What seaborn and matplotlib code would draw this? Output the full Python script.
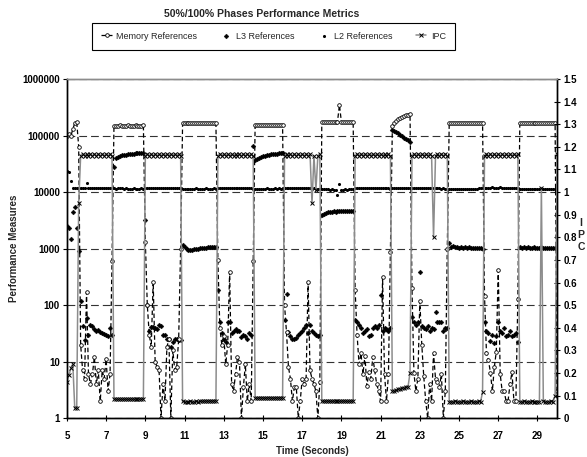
import numpy as np
import pandas as pd
import matplotlib
matplotlib.use("Agg")
import matplotlib.pyplot as plt
from matplotlib.ticker import FixedLocator, FuncFormatter, NullLocator
import seaborn as sns

sns.set_theme(style="ticks")
plt.rcParams["font.family"] = ["Liberation Sans", "DejaVu Sans"]
plt.rcParams["font.weight"] = "bold"

# amostras a cada 0.1 s, de 5.0 a 30.0 s (uma linha por segundo)
time_start = 5.0
time_step = 0.1

memory_refs = [
    100000, 105000, 97000, 130000, 165000, 175000, 64000, 20, 7, 5,            # 5
    170, 6, 4, 6, 12, 4, 7, 2, 7, 5,                                           # 6
    11, 3, 6, 600, 150000, 149000, 150000, 151000, 150000, 149000,             # 7
    150000, 151000, 150000, 149000, 150000, 151000, 150000, 149000, 150000, 151000,  # 8
    1300, 100, 30, 18, 260, 10, 8, 7, 1, 4,                                    # 9
    2, 18, 25, 1, 16, 7, 8, 25, 1000, 165000,                                  # 10
    166000, 165000, 167000, 166000, 165000, 167000, 166000, 165000, 167000, 166000,  # 11
    165000, 167000, 166000, 165000, 167000, 166000, 165000, 620, 40, 20,       # 12
    28, 9, 20, 390, 4, 3, 6, 12, 10, 1,                                        # 13
    3.5, 9, 2, 4, 2, 600, 155000, 154000, 156000, 155000,                      # 14
    154000, 155000, 156000, 155000, 154000, 155000, 156000, 155000, 154000, 155000,  # 15
    156000, 100, 33, 8, 5, 2, 3.5, 3.5, 1, 2,                                  # 16
    5, 4, 5, 260, 7, 5, 4, 3, 1, 4.3,                                          # 17
    174000, 173000, 175000, 174000, 173000, 175000, 174000, 173000, 175000, 350000,  # 18
    174000, 173000, 175000, 174000, 173000, 175000, 174000, 185, 30, 9,        # 19
    14, 6, 12.7, 3.7, 6.5, 5, 12, 7, 4, 3,                                     # 20
    2, 315, 6, 2, 6, 880, 150000, 165000, 180000, 193000,                      # 21
    205000, 215000, 223000, 230000, 236000, 242000, 200, 6.2, 3, 5,            # 22
    120, 20, 5.5, 2, 1, 4, 2, 14, 5, 4.3,                                      # 23
    3.5, 6, 1, 3, 1000, 169000, 168000, 170000, 169000, 168000,                # 24
    170000, 169000, 168000, 170000, 169000, 168000, 170000, 169000, 168000, 170000,  # 25
    169000, 168000, 170000, 145, 14, 10.7, 6.4, 3, 8, 15,                      # 26
    415, 6, 3, 3, 2, 2, 4, 6.5, 2, 2,                                          # 27
    130, 169000, 168000, 170000, 169000, 168000, 170000, 169000, 168000, 170000,  # 28
    169000, 168000, 170000, 169000, 168000, 170000, 169000, 168000, 170000, 169000,  # 29
    3,                                                                         # 30
]

l3_refs = [
    2500, 2300, 1500, 4500, 5500, 2300, 900, 120, 42, 24,                      # 5
    60, 30, 45, 42, 38, 35, 36, 33, 32, 31,                                    # 6
    30, 28, 40, 30, 28000, 40000, 42000, 43500, 44500, 45500,                  # 7
    46000, 46500, 47000, 47500, 48000, 48500, 49000, 49000, 49500, 50000,      # 8
    3200, 100, 35, 41, 41, 40, 38, 45, 42, 30,                                 # 9
    30, 25, 25, 18, 22, 25, 25, 24, 24, 1150,                                  # 10
    1050, 1000, 960, 940, 950, 970, 990, 1000, 1010, 1020,                     # 11
    1030, 1040, 1050, 1060, 1065, 1070, 1060, 185, 50, 32,                     # 12
    25, 22, 50, 50, 32, 35, 38, 35, 35, 27,                                    # 13
    30, 28, 25, 32, 30, 65000, 37000, 39000, 40500, 42000,                     # 14
    43000, 44000, 45000, 46000, 46500, 47000, 47500, 48000, 48500, 49000,      # 15
    50000, 55, 160, 33, 28, 25, 25, 26, 30, 32,                                # 16
    35, 40, 45, 32, 45, 35, 32, 30, 28, 30,                                    # 17
    3900, 4100, 4300, 4400, 4500, 4500, 4550, 4500, 4600, 4550,                # 18
    4600, 4600, 4550, 4600, 4650, 4600, 4650, 55, 50, 45,                      # 19
    40, 32, 35, 38, 28, 30, 40, 42, 40, 45,                                    # 20
    150, 35, 40, 38, 35, 40, 125000, 120000, 114000, 109000,                   # 21
    104000, 98000, 92000, 87000, 82000, 77000, 62, 50, 45, 50,                 # 22
    390, 42, 40, 38, 42, 35, 40, 38, 75, 50,                                   # 23
    50, 50, 35, 40, 40, 1260, 1070, 1100, 1050, 1080,                          # 24
    1040, 1060, 1020, 1050, 1030, 1060, 1020, 1040, 1010, 1030,                # 25
    1020, 1010, 1000, 50, 35, 32, 23, 30, 21, 28,                              # 26
    50, 35, 32, 40, 28, 30, 35, 28, 30, 32,                                    # 27
    22, 1050, 1040, 1060, 1030, 1050, 1040, 1030, 1050, 1020,                  # 28
    1040, 1030, 1050, 1020, 1040, 1030, 1020, 1040, 1010, 1030,                # 29
    110,                                                                       # 30
]

l2_refs = [
    24000, 23000, 16000, 11700, 11800, 11600, 11700, 11900, 11800, 11700,      # 5
    14500, 11600, 11700, 11800, 11700, 11600, 11800, 11700, 11900, 11800,      # 6
    11700, 11600, 11800, 11700, 11600, 11500, 11600, 11700, 11600, 11500,      # 7
    11600, 11500, 11400, 11500, 11600, 11500, 11400, 11500, 11600, 11500,      # 8
    11800, 11900, 12000, 11900, 11800, 11900, 12000, 11900, 11800, 11900,      # 9
    11900, 12000, 11900, 11800, 11900, 11800, 11700, 11800, 11700, 11500,      # 10
    11400, 11500, 11400, 11500, 11400, 11500, 11600, 11500, 11400, 11500,      # 11
    11500, 11600, 11500, 11400, 11500, 11600, 11500, 11700, 11800, 11900,      # 12
    11900, 11800, 11900, 12000, 11900, 11800, 11700, 11800, 11700, 11800,      # 13
    11900, 11800, 11700, 11800, 11700, 11500, 11400, 11500, 11400, 11500,      # 14
    11400, 11500, 11600, 11500, 11400, 11500, 11600, 11500, 11600, 11500,      # 15
    11600, 11700, 11800, 11700, 11800, 11900, 11800, 11700, 11800, 11700,      # 16
    11800, 11700, 11600, 11700, 11600, 11500, 11600, 11500, 11400, 11300,      # 17
    11300, 11200, 11300, 11200, 11100, 11200, 11100, 11000, 8900, 14000,       # 18
    11000, 11100, 11200, 11100, 11200, 11300, 11400, 11600, 11700, 11800,      # 19
    11700, 11800, 11700, 11600, 11700, 11800, 11700, 11600, 11700, 11800,      # 20
    11700, 11800, 11700, 11800, 11600, 11500, 11600, 11700, 11600, 11700,      # 21
    11600, 11700, 11800, 11700, 11600, 11700, 11800, 11900, 11800, 11700,      # 22
    11800, 11700, 11600, 11700, 11800, 11700, 11600, 11700, 11600, 11700,      # 23
    11600, 11500, 11600, 11500, 11400, 11500, 11400, 11300, 11400, 11500,      # 24
    11400, 11300, 11400, 11500, 11400, 11300, 11400, 11500, 11400, 11500,      # 25
    11600, 11700, 11800, 11900, 12000, 11900, 12000, 12100, 12000, 11900,      # 26
    12000, 12100, 12000, 11900, 12000, 11900, 11800, 11900, 11800, 11700,      # 27
    11600, 11400, 11300, 11200, 11300, 11200, 11300, 11200, 11300, 11200,      # 28
    11300, 11200, 11300, 11200, 11300, 11200, 11300, 11200, 11300, 11200,      # 29
    11300,                                                                     # 30
]

ipc = [
    0.16, 0.19, 0.22, 0.24, 0.045, 0.045, 0.95, 1.16, 1.17, 1.16,              # 5
    1.17, 1.16, 1.17, 1.16, 1.17, 1.16, 1.17, 1.16, 1.17, 1.16,                # 6
    1.17, 1.16, 1.17, 1.16, 0.085, 0.083, 0.084, 0.083, 0.084, 0.083,          # 7
    0.084, 0.083, 0.084, 0.085, 0.084, 0.083, 0.084, 0.085, 0.084, 0.085,      # 8
    1.16, 1.17, 1.16, 1.17, 1.16, 1.17, 1.16, 1.17, 1.16, 1.17,                # 9
    1.16, 1.17, 1.16, 1.17, 1.16, 1.17, 1.16, 1.17, 1.16, 0.074,               # 10
    0.072, 0.073, 0.072, 0.074, 0.073, 0.072, 0.074, 0.073, 0.075, 0.074,      # 11
    0.075, 0.076, 0.075, 0.077, 0.076, 0.077, 0.077, 1.16, 1.17, 1.16,         # 12
    1.17, 1.16, 1.17, 1.16, 1.17, 1.16, 1.17, 1.16, 1.17, 1.16,                # 13
    1.17, 1.16, 1.17, 1.16, 1.17, 1.16, 0.09, 0.089, 0.09, 0.091,              # 14
    0.09, 0.089, 0.09, 0.091, 0.09, 0.089, 0.09, 0.091, 0.09, 0.09,            # 15
    0.091, 1.16, 1.17, 1.16, 1.17, 1.16, 1.17, 1.16, 1.17, 1.16,               # 16
    1.17, 1.16, 1.17, 1.16, 1.17, 0.95, 1.16, 1.01, 1.16, 1.17,                # 17
    0.075, 0.074, 0.075, 0.076, 0.075, 0.074, 0.075, 0.076, 0.075, 0.074,      # 18
    0.075, 0.076, 0.075, 0.074, 0.075, 0.076, 0.075, 1.16, 1.17, 1.16,         # 19
    1.17, 1.16, 1.17, 1.16, 1.17, 1.16, 1.17, 1.16, 1.17, 1.16,                # 20
    1.17, 1.16, 1.17, 1.16, 1.17, 1.16, 0.12, 0.122, 0.125, 0.128,             # 21
    0.13, 0.132, 0.135, 0.138, 0.14, 0.2, 1.16, 1.17, 1.16, 1.17,              # 22
    1.16, 1.17, 1.16, 1.17, 1.16, 1.17, 1.16, 0.8, 1.16, 1.17,                 # 23
    1.16, 1.17, 1.16, 1.17, 1.16, 0.072, 0.073, 0.072, 0.074, 0.073,           # 24
    0.072, 0.073, 0.074, 0.072, 0.073, 0.072, 0.074, 0.073, 0.072, 0.073,      # 25
    0.074, 0.073, 0.115, 1.16, 1.17, 1.16, 1.17, 1.16, 1.17, 1.16,             # 26
    1.17, 1.16, 1.17, 1.16, 1.17, 1.16, 1.17, 1.16, 1.17, 1.16,                # 27
    1.17, 0.073, 0.072, 0.074, 0.073, 0.072, 0.073, 0.074, 0.072, 0.073,       # 28
    0.072, 0.073, 1.02, 0.074, 0.073, 0.072, 0.073, 0.074, 0.073, 0.1,         # 29
    1.17,                                                                      # 30
]

left_ticks = [1, 10, 100, 1000, 10000, 100000, 1000000]
right_ticks = [0, 0.1, 0.2, 0.3, 0.4, 0.5, 0.6, 0.7, 0.8, 0.9, 1.0,
               1.1, 1.2, 1.3, 1.4, 1.5]
time_ticks = [5, 7, 9, 11, 13, 15, 17, 19, 21, 23, 25, 27, 29]

time_s = np.round(time_start + time_step * np.arange(len(ipc)), 1)
df = pd.DataFrame({
    "time": time_s,
    "memory": memory_refs,
    "l3": l3_refs,
    "l2": l2_refs,
    "ipc": ipc,
})

fig = plt.figure(figsize=(5.87, 4.57), dpi=100)
ax = fig.add_axes([0.114, 0.085, 0.835, 0.742])
ax2 = ax.twinx()

sns.lineplot(data=df, x="time", y="memory", ax=ax, color="black",
             linestyle=(0, (3.6, 2.2)), linewidth=0.9, marker="o",
             markersize=2.6, markerfacecolor="white", markeredgecolor="black",
             markeredgewidth=0.6, legend=False, label="Memory References")
sns.scatterplot(data=df, x="time", y="l3", ax=ax, marker="D", s=6,
                color="black", edgecolor="black", linewidth=0.3,
                legend=False, label="L3 References")
sns.scatterplot(data=df, x="time", y="l2", ax=ax, marker="o", s=5,
                color="black", linewidth=0, legend=False, label="L2 References")
sns.lineplot(data=df, x="time", y="ipc", ax=ax2, color="0.55", linewidth=1.1,
             marker="x", markersize=3, markeredgecolor="black",
             markeredgewidth=0.7, legend=False, label="IPC")

ax.set_yscale("log")
ax.set_ylim(1, 1e6)
ax.set_xlim(5, 30)
ax2.set_ylim(0, 1.5)

ax.yaxis.set_major_locator(FixedLocator(left_ticks))
ax.yaxis.set_major_formatter(FuncFormatter(lambda v, p: f"{int(round(v))}"))
ax.yaxis.set_minor_locator(NullLocator())
ax.set_xticks(time_ticks)
ax2.yaxis.set_major_locator(FixedLocator(right_ticks))
ax2.yaxis.set_major_formatter(FuncFormatter(lambda v, p: f"{v:g}"))

ax.grid(axis="y", which="major", color="0.2", linestyle=(0, (7, 3.6)),
        linewidth=0.8)
ax.grid(axis="x", visible=False)

ax.tick_params(axis="y", direction="out", length=3, width=0.8,
               labelsize=7, pad=2, colors="black")
ax.tick_params(axis="x", direction="inout", length=4, width=0.8,
               labelsize=7, pad=7, colors="black")
ax2.tick_params(axis="y", direction="inout", length=5, width=0.8,
                labelsize=7, pad=2, colors="black")

for a in (ax, ax2):
    for side in ("left", "right", "bottom"):
        a.spines[side].set_color("black")
        a.spines[side].set_linewidth(1.0)
    a.spines["top"].set_color("0.55")
    a.spines["top"].set_linewidth(1.0)
    a.spines["top"].set_visible(True)
    a.spines["right"].set_visible(True)

ax.set_xlabel("Time (Seconds)", fontsize=7, fontweight="bold")
ax.xaxis.set_label_coords(0.50, -0.083)
ax.set_ylabel("Performance Measures", fontsize=7, fontweight="bold")
ax.yaxis.set_label_coords(-0.098, 0.5)
ax2.set_ylabel("I\nP\nC", rotation=0, fontsize=7.5, fontweight="bold",
               va="center", ha="center", linespacing=1.2)
ax2.yaxis.set_label_coords(1.049, 0.54)

h1, l1 = ax.get_legend_handles_labels()
h2, l2 = ax2.get_legend_handles_labels()
leg = fig.legend(h1 + h2, l1 + l2, loc="center", bbox_to_anchor=(0.466, 0.921),
                 ncol=4, frameon=True, fancybox=False, edgecolor="black",
                 framealpha=1, handlelength=1.2, handletextpad=0.5,
                 columnspacing=2.6, borderpad=1.0,
                 prop={"size": 6.5, "weight": "normal"})
leg.get_frame().set_linewidth(0.8)

fig.text(0.445, 0.969, "50%/100% Phases Performance Metrics", ha="center",
         va="center", fontsize=7.5, fontweight="bold")

fig.savefig("out.png", dpi=100)
